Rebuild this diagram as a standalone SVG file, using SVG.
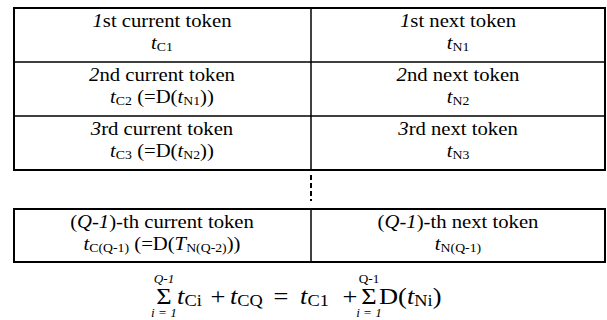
<svg xmlns="http://www.w3.org/2000/svg" width="607" height="320" viewBox="0 0 607 320">
  <style>
    .frame { fill: #ffffff; stroke: #000000; stroke-width: 2; }
    .rule { stroke: #000000; stroke-width: 1.5; fill: none; }
    .dots { stroke: #000000; stroke-width: 2; stroke-dasharray: 5 3; fill: none; }
    text { font-family: "Liberation Serif", "Times New Roman", serif; font-size: 18px; fill: #000000; text-anchor: middle; }
    .i { font-style: italic; }
    .sub { font-size: 12px; }
    .eq { font-size: 23px; text-anchor: start; }
    .op { font-size: 23px; }
    .eqsub { font-size: 16px; }
    .sig { font-size: 23px; }
    .lim { font-size: 11.5px; }
  </style>

  <!-- upper table frame and grid -->
  <g id="table-top">
    <rect class="frame" x="14" y="8" width="591" height="162"/>
    <line class="rule" x1="311" y1="8" x2="311" y2="170"/>
    <line class="rule" x1="14" y1="62" x2="605" y2="62"/>
    <line class="rule" x1="14" y1="116" x2="605" y2="116"/>
  </g>

  <!-- lower table frame and grid -->
  <g id="table-bottom">
    <rect class="frame" x="14" y="209" width="591" height="53"/>
    <line class="rule" x1="311" y1="209" x2="311" y2="262"/>
  </g>

  <!-- vertical ellipsis between the two tables -->
  <g id="connectors">
    <line class="dots" x1="311" y1="175" x2="311" y2="201"/>
  </g>

  <!-- cell texts: each cell is centred on its column and widened slightly -->
  <g id="cur1" transform="translate(162,0) scale(1.15,1)">
    <text x="0" y="27"><tspan class="i">1</tspan>st current token</text>
    <text x="0" y="49"><tspan class="i">t</tspan><tspan class="sub" dy="2">C1</tspan></text>
  </g>
  <g id="next1" transform="translate(458,0) scale(1.15,1)">
    <text x="0" y="27"><tspan class="i">1</tspan>st next token</text>
    <text x="0" y="49"><tspan class="i">t</tspan><tspan class="sub" dy="2">N1</tspan></text>
  </g>

  <g id="cur2" transform="translate(162,0) scale(1.15,1)">
    <text x="0" y="81"><tspan class="i">2</tspan>nd current token</text>
    <text x="0" y="103"><tspan class="i">t</tspan><tspan class="sub" dy="2">C2</tspan><tspan dy="-2"> (=D(</tspan><tspan class="i">t</tspan><tspan class="sub" dy="2">N1</tspan><tspan dy="-2">))</tspan></text>
  </g>
  <g id="next2" transform="translate(458,0) scale(1.15,1)">
    <text x="0" y="81"><tspan class="i">2</tspan>nd next token</text>
    <text x="0" y="103"><tspan class="i">t</tspan><tspan class="sub" dy="2">N2</tspan></text>
  </g>

  <g id="cur3" transform="translate(162,0) scale(1.15,1)">
    <text x="0" y="135"><tspan class="i">3</tspan>rd current token</text>
    <text x="0" y="157"><tspan class="i">t</tspan><tspan class="sub" dy="2">C3</tspan><tspan dy="-2"> (=D(</tspan><tspan class="i">t</tspan><tspan class="sub" dy="2">N2</tspan><tspan dy="-2">))</tspan></text>
  </g>
  <g id="next3" transform="translate(458,0) scale(1.15,1)">
    <text x="0" y="135"><tspan class="i">3</tspan>rd next token</text>
    <text x="0" y="157"><tspan class="i">t</tspan><tspan class="sub" dy="2">N3</tspan></text>
  </g>

  <g id="curQ" transform="translate(162,0) scale(1.15,1)">
    <text x="0" y="228">(<tspan class="i">Q</tspan>-<tspan class="i">1</tspan>)-th current token</text>
    <text x="0" y="250"><tspan class="i">t</tspan><tspan class="sub" dy="2">C(Q-1)</tspan><tspan dy="-2"> (=D(</tspan><tspan class="i">T</tspan><tspan class="sub" dy="2">N(Q-2)</tspan><tspan dy="-2">))</tspan></text>
  </g>
  <g id="nextQ" transform="translate(458,0) scale(1.15,1)">
    <text x="0" y="228">(<tspan class="i">Q</tspan>-<tspan class="i">1</tspan>)-th next token</text>
    <text x="0" y="250"><tspan class="i">t</tspan><tspan class="sub" dy="2">N(Q-1)</tspan></text>
  </g>

  <!-- summation identity below the tables -->
  <g id="equation" transform="scale(1.15,1)">
    <text class="sig" x="142.6" y="304">Σ</text>
    <text class="lim i" x="142.6" y="283">Q-1</text>
    <text class="lim i" x="142.6" y="317">i = 1</text>
    <text class="eq" x="154" y="304"><tspan class="i">t</tspan><tspan class="eqsub" dy="2">Ci</tspan></text>
    <text class="op" x="189.6" y="304">+</text>
    <text class="eq" x="200" y="304"><tspan class="i">t</tspan><tspan class="eqsub" dy="2">CQ</tspan></text>
    <text class="op" x="244.3" y="304">=</text>
    <text class="eq" x="260.9" y="304"><tspan class="i">t</tspan><tspan class="eqsub" dy="2">C1</tspan></text>
    <text class="op" x="304.3" y="304">+</text>
    <text class="sig" x="320.9" y="304">Σ</text>
    <text class="lim" x="320.9" y="283">Q-1</text>
    <text class="lim i" x="320.9" y="317">i = 1</text>
    <text class="eq" x="329.6" y="304">D(<tspan class="i">t</tspan><tspan class="eqsub" dy="2">Ni</tspan><tspan dy="-2">)</tspan></text>
  </g>
</svg>
